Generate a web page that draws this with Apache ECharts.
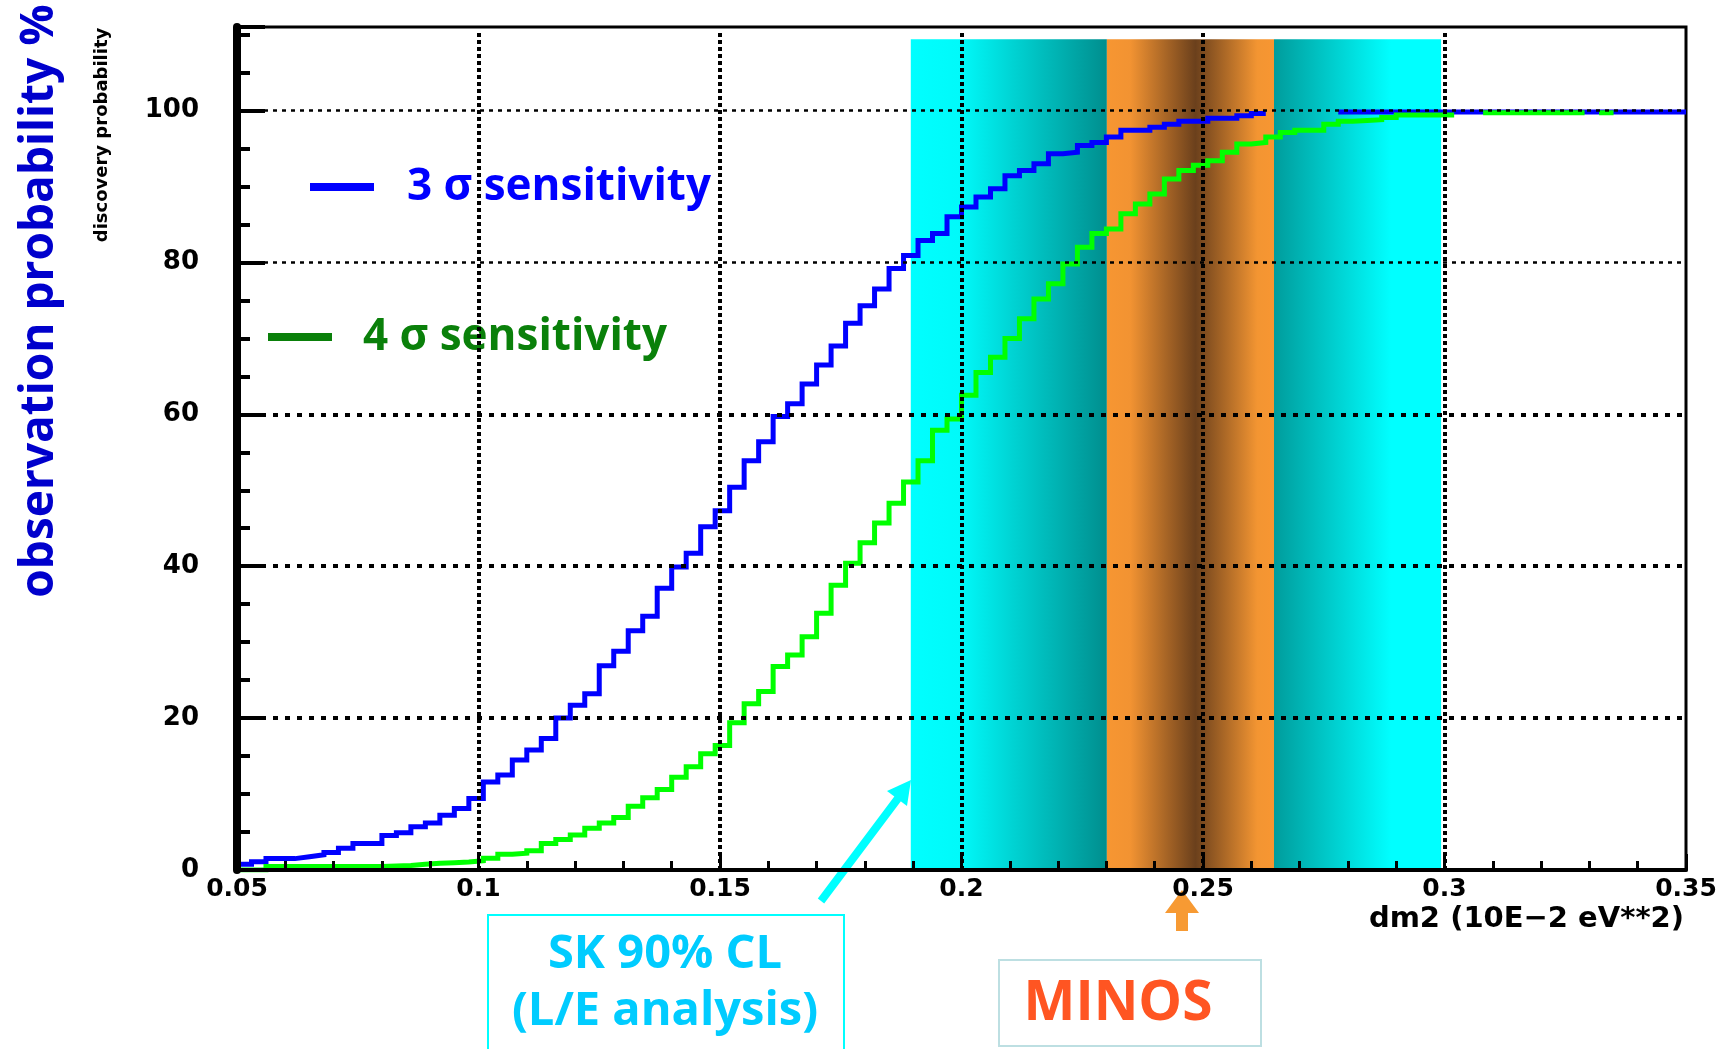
<!DOCTYPE html>
<html>
<head>
<meta charset="utf-8">
<script src="https://cdn.jsdelivr.net/npm/echarts@6/dist/echarts.min.js"></script>
<style>
html,body{margin:0;padding:0;background:#ffffff;}
#chart{width:1735px;height:1049px;}
</style>
</head>
<body>
<div id="chart"></div>
<script>
// ---------------- data ----------------
const binStart = 0.05;
const binWidth = 0.003;

// 3 sigma sensitivity (blue), one value per bin (100 bins from 0.05 to 0.35)
const sigma3Values = [
  0.75, 1.1, 1.5, 1.5, 1.75, 2.0, 2.3, 2.85, 3.5, 3.5,
  4.55, 4.9, 5.7, 6.2, 7.2, 8.1, 9.4, 11.6, 12.5, 14.5,
  15.8, 17.3, 20.0, 21.7, 23.2, 26.9, 28.8, 31.5, 33.4, 37.1,
  39.9, 41.7, 45.2, 47.3, 50.4, 53.9, 56.4, 59.7, 61.4, 64.0,
  66.5, 69.0, 72.0, 74.3, 76.5, 79.2, 80.9, 82.9, 83.8, 86.0,
  87.3, 88.6, 89.7, 91.4, 92.1, 93.0, 94.3, 94.5, 95.4, 95.8,
  96.5, 97.4, 97.4, 97.8, 98.2, 98.6, 98.6, 99.0, 99.0, 99.3,
  99.6, null, null, null, null, null, 99.8, 99.8, 99.8, 99.8,
  99.8, 99.8, 99.8, 99.8, 99.8, 99.8, 99.8, 99.8, 99.8, 99.8,
  99.8, 99.8, 99.8, 99.8, 99.8, 99.8, 99.8, 99.8, 99.8, 99.8
];

// 4 sigma sensitivity (green)
const sigma4Values = [
  0, 0, 0.45, 0.45, 0.45, 0.45, 0.45, 0.45, 0.45, 0.45,
  0.53, 0.6, 0.75, 0.9, 0.97, 1.05, 1.23, 1.54, 2.06, 2.2,
  2.54, 3.5, 4.0, 4.6, 5.5, 6.2, 6.9, 8.4, 9.5, 10.6,
  12.2, 13.6, 15.3, 16.4, 19.4, 21.9, 23.5, 26.8, 28.3, 30.7,
  33.8, 37.5, 40.4, 43.1, 45.7, 48.3, 51.1, 53.9, 57.9, 59.4,
  62.5, 65.5, 67.5, 70.0, 72.6, 75.2, 77.2, 79.8, 82.0, 83.8,
  84.4, 86.4, 87.7, 89.0, 91.0, 92.1, 92.8, 93.4, 94.5, 95.6,
  95.8, 96.5, 97.1, 97.4, 97.4, 98.2, 98.6, 98.7, 98.8, 99.1,
  99.4, 99.4, 99.4, 99.4, null, null, 99.7, 99.7, 99.7, 99.7,
  99.7, 99.7, 99.7, null, 99.7, null, null, null, null, null
];

const seriesNames = ['3 \u03c3 sensitivity', '4 \u03c3 sensitivity'];
const xTickLabels = ['0.05', '0.1', '0.15', '0.2', '0.25', '0.3', '0.35'];
const yTickLabels = ['0', '20', '40', '60', '80', '100'];
const xGridValues = [0.1, 0.15, 0.2, 0.25, 0.3];
const yGridValues = [20, 40, 60, 80, 100];

// shaded ranges (x in axis units)
const skLeftBand = [0.1895, 0.2301];
const minosBand = [0.2301, 0.2647];
const skRightBand = [0.2647, 0.2993];
const bandTop = 109.4;

// ---------------- helpers ----------------
const xMin = 0.05, xMax = 0.35, yMin = 0, yMax = 111;

function stepData(values) {
  const pts = [];
  values.forEach(function (v, k) {
    const x0 = +(binStart + k * binWidth).toFixed(5);
    const x1 = +(binStart + (k + 1) * binWidth).toFixed(5);
    if (v === null) {
      pts.push([x0, null]);
    } else {
      pts.push([x0, v], [x1, v]);
    }
  });
  return pts;
}

function xLabel(value) {
  const f = (value - xMin) / 0.05;
  const i = Math.round(f);
  if (Math.abs(f - i) < 1e-6 && i >= 0 && i < xTickLabels.length) return xTickLabels[i];
  return '';
}
function yLabel(value) {
  const f = value / 20;
  const i = Math.round(f);
  if (Math.abs(f - i) < 1e-6 && i >= 0 && i < yTickLabels.length) return yTickLabels[i];
  return '';
}

const G = echarts.graphic;
const tickFont = 'DejaVu Sans';
const annFont = 'Open Sans';

const gridLineData = [];
yGridValues.forEach(function (v) {
  const heavy = v <= 60;
  gridLineData.push({
    yAxis: v,
    lineStyle: { color: '#000', width: heavy ? 4 : 2.5, type: heavy ? [5, 7] : [4, 5] }
  });
});
xGridValues.forEach(function (v) {
  gridLineData.push([
    { coord: [v, 0], lineStyle: { color: '#000', width: 4, type: [4, 3] } },
    { coord: [v, 110.3] }
  ]);
});

const chart = echarts.init(document.getElementById('chart'), null, { renderer: 'canvas' });

const option = {
  animation: false,
  backgroundColor: '#ffffff',
  grid: {
    left: 237, right: 49, top: 27, bottom: 179,
    show: true, borderColor: '#000', borderWidth: 3, backgroundColor: 'transparent'
  },
  legend: [
    {
      left: 310, top: 162, padding: 0, selectedMode: false, icon: 'rect',
      itemWidth: 64, itemHeight: 8,
      data: [{ name: seriesNames[0], itemStyle: { color: '#0000ff' } }],
      textStyle: { color: '#0000ff', fontFamily: annFont, fontWeight: 'bold', fontSize: 44, lineHeight: 50, padding: [0, 0, 0, 28] }
    },
    {
      left: 268, top: 312, padding: 0, selectedMode: false, icon: 'rect',
      itemWidth: 64, itemHeight: 8,
      data: [{ name: seriesNames[1], itemStyle: { color: '#0a800a' } }],
      textStyle: { color: '#0a800a', fontFamily: annFont, fontWeight: 'bold', fontSize: 44, lineHeight: 50, padding: [0, 0, 0, 26] }
    }
  ],
  xAxis: [
    {
      type: 'value', min: xMin, max: xMax, interval: 0.01, position: 'bottom', z: 6,
      axisLine: { show: true, onZero: false, lineStyle: { color: '#000', width: 4 } },
      axisTick: { show: true, inside: true, length: 9, lineStyle: { color: '#000', width: 3 } },
      axisLabel: { formatter: xLabel, margin: 7, color: '#000', fontFamily: tickFont, fontWeight: 'bold', fontSize: 25, showMinLabel: true, showMaxLabel: true },
      splitLine: { show: false },
      name: 'dm2 (10E\u22122 eV**2)', nameLocation: 'end', nameGap: 0,
      nameTextStyle: { align: 'right', verticalAlign: 'top', padding: [35, 2, 0, 0], color: '#000', fontFamily: tickFont, fontWeight: 'bold', fontSize: 29 }
    },
    {
      type: 'value', min: xMin, max: xMax, interval: 0.05, position: 'bottom', z: 6,
      axisLine: { show: false },
      axisTick: { show: true, inside: true, length: 16, lineStyle: { color: '#000', width: 3 } },
      axisLabel: { show: false },
      splitLine: { show: false }
    }
  ],
  yAxis: [
    {
      type: 'value', min: yMin, max: yMax, interval: 5, position: 'left', z: 6,
      axisLine: { show: true, onZero: false, lineStyle: { color: '#000', width: 8 } },
      axisTick: { show: true, inside: true, length: 13, lineStyle: { color: '#000', width: 4 } },
      axisLabel: { formatter: yLabel, margin: 38, color: '#000', fontFamily: tickFont, fontWeight: 'bold', fontSize: 26 },
      splitLine: { show: false },
      name: 'discovery probability', nameLocation: 'end', nameGap: -108, nameRotate: 90,
      nameMoveOverlap: false,
      nameTextStyle: { align: 'center', verticalAlign: 'bottom', padding: [0, 0, 126, 0], color: '#000', fontFamily: tickFont, fontWeight: 'bold', fontSize: 18 }
    },
    {
      type: 'value', min: yMin, max: yMax, interval: 20, position: 'left', z: 6,
      axisLine: { show: false },
      axisTick: { show: true, inside: true, length: 28, lineStyle: { color: '#000', width: 4 } },
      axisLabel: { show: false },
      splitLine: { show: false }
    }
  ],
  series: [
    {
      name: 'bands', type: 'line', data: [], z: 1, silent: true,
      markArea: {
        silent: true,
        data: [
          [
            { xAxis: skLeftBand[0], yAxis: 0, itemStyle: { color: new G.LinearGradient(0, 0, 1, 0, [
              { offset: 0, color: '#00ffff' }, { offset: 0.25, color: '#00fafa' }, { offset: 1, color: '#008e8e' }]) } },
            { xAxis: skLeftBand[1], yAxis: bandTop }
          ],
          [
            { xAxis: minosBand[0], yAxis: 0, itemStyle: { color: new G.LinearGradient(0, 0, 1, 0, [
              { offset: 0, color: '#f79632' }, { offset: 0.14, color: '#f29332' }, { offset: 0.53, color: '#6b401c' },
              { offset: 0.9, color: '#f39532' }, { offset: 1, color: '#f79632' }]) } },
            { xAxis: minosBand[1], yAxis: bandTop }
          ],
          [
            { xAxis: skRightBand[0], yAxis: 0, itemStyle: { color: new G.LinearGradient(0, 0, 1, 0, [
              { offset: 0, color: '#009c9c' }, { offset: 0.62, color: '#00f4f4' }, { offset: 0.7, color: '#00ffff' }, { offset: 1, color: '#00ffff' }]) } },
            { xAxis: skRightBand[1], yAxis: bandTop }
          ]
        ]
      }
    },
    {
      name: seriesNames[0], type: 'line', data: stepData(sigma3Values), z: 2,
      showSymbol: false, symbol: 'none', connectNulls: false, silent: true,
      lineStyle: { color: '#0000ff', width: 5, cap: 'butt', join: 'miter' },
      itemStyle: { color: '#0000ff' }, emphasis: { disabled: true }
    },
    {
      name: seriesNames[1], type: 'line', data: stepData(sigma4Values), z: 3,
      showSymbol: false, symbol: 'none', connectNulls: false, silent: true,
      lineStyle: { color: '#00ff00', width: 5, cap: 'butt', join: 'miter' },
      itemStyle: { color: '#00ff00' }, emphasis: { disabled: true }
    },
    {
      name: 'grid lines', type: 'line', data: [], z: 4, silent: true,
      markLine: { silent: true, symbol: ['none', 'none'], label: { show: false }, data: gridLineData }
    }
  ],
  graphic: [
    { type: 'text', x: 40, y: 301, rotation: Math.PI / 2, silent: true,
      style: { text: 'observation probability %', fill: '#0000cc', font: 'bold 46px "Open Sans"', align: 'center', verticalAlign: 'middle' } },
    // cyan arrow
    { type: 'line', silent: true, shape: { x1: 821, y1: 901, x2: 899, y2: 797 }, style: { stroke: '#00ffff', lineWidth: 8 } },
    { type: 'polygon', silent: true, shape: { points: [[911, 780], [907, 806], [887, 791]] }, style: { fill: '#00ffff' } },
    // SK box
    { type: 'rect', silent: true, shape: { x: 488, y: 915, width: 356, height: 150 }, style: { fill: 'none', stroke: '#00ffff', lineWidth: 2 } },
    { type: 'text', x: 665, y: 955, silent: true, style: { text: 'SK 90% CL', fill: '#00ccff', font: 'bold 47px "Open Sans"', align: 'center', verticalAlign: 'middle' } },
    { type: 'text', x: 665, y: 1012, silent: true, style: { text: '(L/E analysis)', fill: '#00ccff', font: 'bold 47px "Open Sans"', align: 'center', verticalAlign: 'middle' } },
    // MINOS box
    { type: 'rect', silent: true, shape: { x: 999, y: 960, width: 262, height: 86 }, style: { fill: 'none', stroke: '#bddfe2', lineWidth: 2 } },
    { type: 'text', x: 1118, y: 1004, silent: true, style: { text: 'MINOS', fill: '#ff5522', font: 'bold 55px "Open Sans"', align: 'center', verticalAlign: 'middle' } },
    // orange arrow
    { type: 'polygon', silent: true, shape: { points: [[1182, 890], [1199, 913], [1188, 913], [1188, 931], [1176, 931], [1176, 913], [1165, 913]] }, style: { fill: '#f79a33' } }
  ]
};

chart.setOption(option);
</script>
</body>
</html>
